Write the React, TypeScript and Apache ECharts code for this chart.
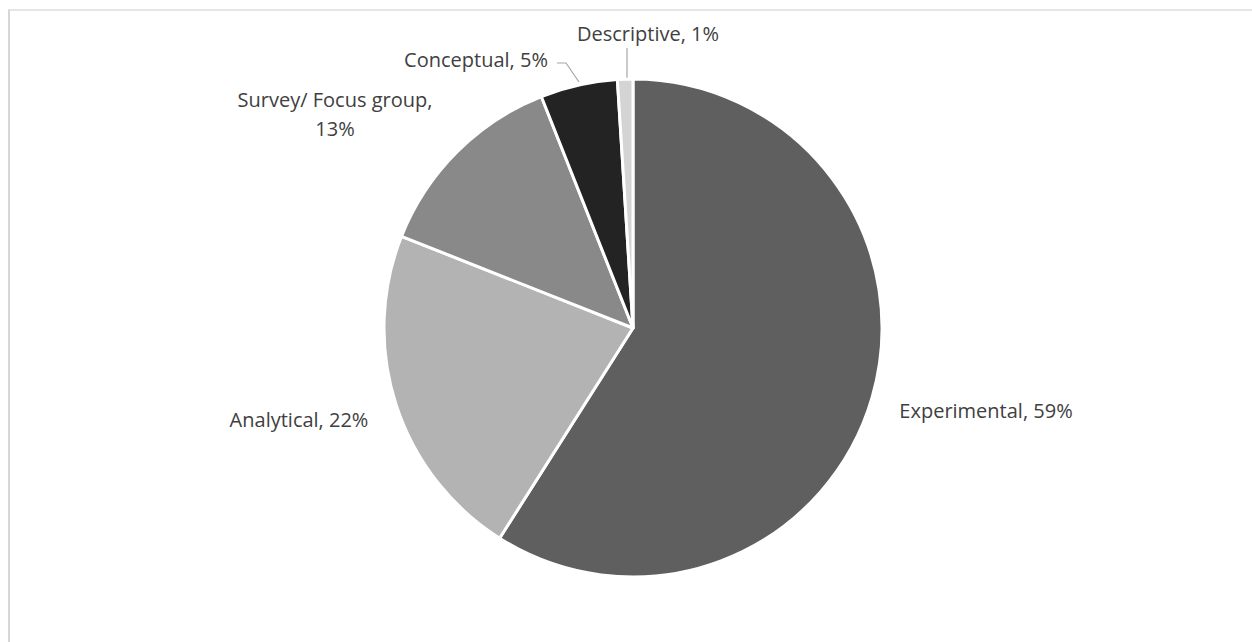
import React, { useEffect, useRef } from "react";
import * as echarts from "echarts";

const categories = ["Experimental", "Analytical", "Survey/ Focus group", "Conceptual", "Descriptive"];
const values = [59, 22, 13, 5, 1];
const colors = ["#5f5f5f", "#b3b3b3", "#898989", "#232323", "#d4d4d4"];

// label anchor positions (center x, center y) in chart pixels
const labelPos: number[][] = [
  [986, 410],
  [299, 419],
  [335, 114],
  [476, 59],
  [648, 33],
];
const leaderPoints: (number[][] | null)[] = [
  null,
  null,
  null,
  [[557, 63], [566, 63], [579, 82]],
  [[627, 48], [627, 63], [627, 78]],
];

export default function App() {
  const ref = useRef<HTMLDivElement>(null);
  useEffect(() => {
    if (!ref.current) return;
    const chart = echarts.init(ref.current, null, { renderer: "svg" });
    const data = categories.map((name, i) => ({
      name,
      value: values[i],
      itemStyle: { color: colors[i] },
      labelLine: { show: i >= 3 },
    }));
    chart.setOption({
      animation: false,
      backgroundColor: "#ffffff",
      graphic: [
        { type: "line", shape: { x1: 8, y1: 10, x2: 1252, y2: 10 }, style: { stroke: "#dcdcdc", lineWidth: 1.5 } },
        { type: "line", shape: { x1: 9, y1: 10, x2: 9, y2: 642 }, style: { stroke: "#d6d6d6", lineWidth: 2 } },
      ],
      series: [
        {
          type: "pie",
          center: [633, 328],
          radius: [0, 249],
          startAngle: 90,
          clockwise: true,
          data,
          itemStyle: { borderColor: "#ffffff", borderWidth: 3 },
          label: {
            show: true,
            position: "outside",
            color: "#404040",
            fontFamily: "Open Sans",
            fontSize: 20,
            lineHeight: 29,
            align: "center",
            formatter: (p: any) =>
              p.name.indexOf("Survey") === 0 ? `${p.name},\n${p.value}%` : `${p.name}, ${p.value}%`,
          },
          labelLine: { show: false, lineStyle: { color: "#a6a6a6", width: 1.2 } },
          labelLayout: (params: any) => {
            const i = params.dataIndex;
            const out: any = {
              x: labelPos[i][0],
              y: labelPos[i][1],
              align: "center",
              verticalAlign: "middle",
            };
            if (leaderPoints[i]) out.labelLinePoints = leaderPoints[i];
            return out;
          },
        },
      ],
    });
    return () => chart.dispose();
  }, []);
  return (
    <div
      ref={ref}
      style={{ position: "absolute", left: 0, top: 0, width: 1252, height: 642 }}
    />
  );
}
